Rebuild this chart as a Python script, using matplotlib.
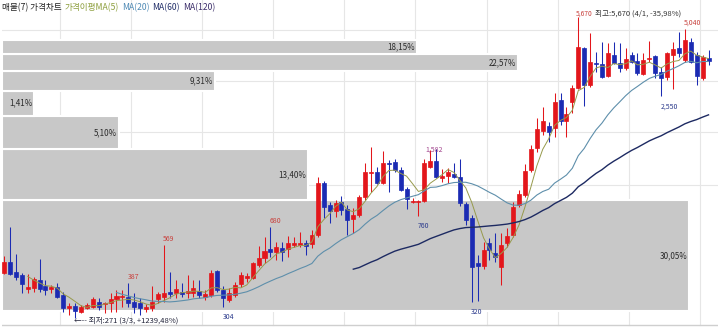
import numpy as np
import pandas as pd
import matplotlib
matplotlib.use("Agg")
import matplotlib.pyplot as plt
from matplotlib.transforms import blended_transform_factory

plt.rcParams['font.family'] = ['Noto Sans CJK KR', 'DejaVu Sans']

# ---------------- data (daily OHLC) ----------------
opens = [429, 479, 433, 420, 365, 368, 399, 376, 365, 372,
         343, 301, 307, 289, 301, 304, 320, 313, 317, 330,
         336, 336, 320, 317, 298, 301, 330, 336, 354, 350,
         354, 350, 350, 357, 336, 343, 437, 361, 326, 343,
         384, 408, 408, 465, 499, 546, 530, 552, 546, 569,
         569, 580, 575, 629, 1064, 852, 802, 878, 818, 740,
         770, 924, 1177, 1189, 1064, 1302, 1315, 1213, 1002, 878,
         878, 887, 1250, 1329, 1119, 1142, 1165, 1130, 861, 747,
         474, 460, 580, 525, 455, 580, 629, 852, 942, 1213,
         1515, 1799, 1892, 1855, 2461, 1990, 2411, 2778, 4161, 2863,
         3575, 3539, 3135, 3876, 3575, 3400, 3876, 3648, 3199, 3723,
         3837, 3265, 3103, 3876, 4161, 3685, 4420, 3876, 3073, 3761]
highs = [509, 682, 519, 429, 424, 412, 494, 399, 380, 388,
         354, 317, 317, 310, 317, 336, 333, 320, 350, 361,
         361, 387, 350, 333, 313, 376, 354, 569, 433, 399,
         388, 420, 399, 399, 361, 442, 442, 376, 368, 391,
         433, 429, 479, 563, 617, 680, 586, 586, 623, 617,
         649, 598, 662, 1130, 1086, 878, 896, 933, 852, 827,
         942, 1302, 1530, 1250, 1470, 1342, 1356, 1250, 1022, 915,
         896, 1356, 1485, 1500, 1226, 1238, 1302, 1356, 878, 770,
         514, 586, 611, 642, 642, 675, 878, 991, 1289, 1562,
         2052, 2292, 1970, 2641, 2641, 2292, 2863, 5670, 4202, 4841,
         3995, 4420, 4376, 4420, 4376, 4161, 3995, 3955, 3955, 4465,
         3876, 3433, 3995, 4420, 4890, 5040, 4603, 3995, 3876, 4077]
lows = [424, 420, 399, 350, 350, 354, 354, 343, 350, 333,
        289, 280, 271, 286, 298, 301, 295, 286, 289, 289,
        304, 304, 286, 280, 289, 292, 317, 320, 333, 333,
        336, 333, 336, 333, 326, 336, 354, 304, 320, 336,
        372, 391, 404, 455, 474, 504, 489, 484, 504, 557,
        557, 514, 552, 617, 747, 710, 755, 770, 629, 642,
        755, 896, 972, 1053, 1053, 972, 1189, 981, 818, 869,
        760, 878, 1238, 1119, 1075, 1064, 1119, 843, 696, 320,
        322, 446, 489, 479, 380, 557, 617, 835, 924, 1189,
        1455, 1728, 1610, 1693, 1911, 1693, 2158, 2750, 2315, 2805,
        3265, 3073, 3103, 3539, 3265, 3331, 3575, 3167, 3167, 3612,
        3073, 2550, 3011, 2750, 3798, 3612, 3575, 2863, 3011, 3503]
closes = [479, 424, 412, 384, 372, 404, 365, 361, 372, 336,
          301, 307, 292, 304, 310, 330, 304, 317, 330, 340,
          340, 317, 304, 301, 304, 320, 347, 350, 347, 365,
          347, 357, 368, 343, 347, 429, 361, 333, 350, 380,
          420, 416, 474, 499, 535, 530, 557, 530, 580, 580,
          580, 563, 629, 1064, 835, 802, 869, 810, 732, 770,
          924, 1189, 1189, 1064, 1302, 1289, 1213, 991, 905, 887,
          887, 1302, 1329, 1130, 1142, 1189, 1130, 869, 732, 455,
          460, 541, 541, 504, 569, 623, 835, 952, 1201, 1500,
          1836, 1990, 1781, 2411, 1990, 2136, 2778, 4202, 2863, 3612,
          3539, 3103, 3955, 3575, 3400, 3723, 3612, 3232, 3685, 3761,
          3232, 3073, 3955, 4119, 3955, 4510, 3612, 3135, 3798, 3630]

# volume-by-price shares (7 bins, lowest bin first)
profile_pct = [30.05, 13.40, 5.10, 1.41, 9.31, 22.57, 18.15]

ma_periods = [5, 20, 60, 120]
title_parts = ["매물(7) 가격차트", "가격이평MA(5)", "MA(20)", "MA(60)", "MA(120)"]

high_marks = [21, 27, 45, 115]          # candles with a labelled high
low_marks = [37, 70, 79, 111]           # candles with a labelled low
extra_mark = (72, "1,582")              # overlapped label near the mid peak
high_idx = 97                           # all-time high candle
low_idx = 12                            # all-time low candle
high_date = "4/1"
low_date = "3/3"

# ---------------- figure ----------------
W, H = 720, 327
fig = plt.figure(figsize=(W / 100, H / 100), dpi=100)
fig.patch.set_facecolor("white")
rect = [2 / W, 0, 716 / W, 1]
ax = fig.add_axes(rect)
ax2 = ax.twiny()
ax2.set_zorder(0)
ax.set_zorder(1)
ax.patch.set_visible(False)

opens_a = np.array(opens, float)
highs_a = np.array(highs, float)
lows_a = np.array(lows, float)
closes_a = np.array(closes, float)
n = len(closes_a)
x = np.arange(n)

ax.set_yscale("log")
ax.set_ylim(248.4, 6755)
ax.set_xlim(-0.34, 120.6)

# grid (beneath profile bars)
trans_v = blended_transform_factory(ax.transData, ax2.transAxes)
for gx in np.arange(9.5, n, 12):
    ax2.plot([gx, gx], [0.006, 1.0], transform=trans_v, color="#e6e6e6", lw=0.8, zorder=0)
for gy in [0.9083, 0.7523, 0.5963, 0.4343]:
    ax2.plot([0, 1], [gy, gy], transform=ax2.transAxes, color="#e6e6e6", lw=0.8, zorder=0)
ax2.plot([0, 1], [0.006, 0.006], transform=ax2.transAxes, color="#cfcfcf", lw=1.0, zorder=0)

# volume profile bars
edges = np.linspace(closes_a.min(), closes_a.max(), len(profile_pct) + 1)
ax2.barh(edges[:-1], profile_pct, height=np.diff(edges), align="edge",
         color="#c8c8c8", edgecolor="white", linewidth=1.5, zorder=2)
ax2.set_xlim(0, max(profile_pct) / 0.9595)
for lo, hi, p in zip(edges[:-1], edges[1:], profile_pct):
    ax2.annotate(f"{p:.2f}".replace(".", ",") + "%", xy=(p, np.sqrt(lo * hi)),
                 xytext=(-1.2, 0), textcoords="offset points", ha="right", va="center",
                 fontsize=5.8, color="#2a2a2a", zorder=3)

# candles
red, blue = "#e3161b", "#1b2bb3"
up = closes_a >= opens_a
cols = np.where(up, red, blue)
ax.vlines(x, lows_a, highs_a, colors=cols, linewidth=0.75, zorder=3)
ax.bar(x, np.abs(closes_a - opens_a), bottom=np.minimum(opens_a, closes_a), width=0.68,
       color=cols, edgecolor=cols, linewidth=0.5, zorder=4)

# moving averages
s = pd.Series(closes_a)
ma_colors = ["#979a4c", "#5e8fab", "#1d2a62", "#3b2f6e"]
ma_widths = [0.7, 0.8, 1.0, 1.0]
for p, c, lw in zip(ma_periods, ma_colors, ma_widths):
    ax.plot(x, s.rolling(p).mean(), color=c, lw=lw, zorder=5)

# high / low labels
for i in high_marks:
    ax.annotate(f"{highs[i]:,}", xy=(i, highs[i]), xytext=(-0.5, 4.3), textcoords="offset points",
                ha="left", va="center", fontsize=5, color="#c8403c", zorder=6)
for i in low_marks:
    ax.annotate(f"{lows[i]:,}", xy=(i, lows[i]), xytext=(-0.5, -7.2), textcoords="offset points",
                ha="left", va="center", fontsize=5, color="#2b3a8c", zorder=6)
ax.annotate(extra_mark[1], xy=(extra_mark[0], highs[extra_mark[0]]), xytext=(-3.5, 0),
            textcoords="offset points", ha="left", va="center", fontsize=5, color="#a0408a", zorder=6)

last = closes_a[-1]
hi_v, lo_v = highs[high_idx], lows[low_idx]
ax.annotate(f"{hi_v:,}", xy=(high_idx, hi_v), xytext=(-1.5, 3), textcoords="offset points",
            ha="left", va="center", fontsize=4.8, color="#c8403c", zorder=6)
ax.annotate(f"최고:{hi_v:,} ({high_date}, {(last / hi_v - 1) * 100:.2f}%)".replace(".", ","),
            xy=(high_idx, hi_v), xytext=(12.0, 3), textcoords="offset points",
            ha="left", va="center", fontsize=5.5, color="#333333", zorder=6)
ax.annotate(f"←-- 최저:{lo_v:,} ({low_date}, +{(last / lo_v - 1) * 100:.2f}%)".replace(".", ","),
            xy=(low_idx, lo_v), xytext=(-0.5, -1.5), textcoords="offset points",
            ha="left", va="center", fontsize=5.5, color="#22243a", zorder=6)

ax.axis("off")
ax2.axis("off")

# title line
title_colors = ["#222222", "#8c9e3c", "#4f8ab5", "#23306a", "#3d2f6b"]
renderer = fig.canvas.get_renderer()
xpos = 2 / W
for txt, col in zip(title_parts, title_colors):
    t = fig.text(xpos, 1 - 7.5 / H, txt, color=col, fontsize=6.2, ha="left", va="center")
    bb = t.get_window_extent(renderer)
    xpos = (bb.x1 + 3) / W

fig.savefig("out.png", dpi=100, facecolor="white")
